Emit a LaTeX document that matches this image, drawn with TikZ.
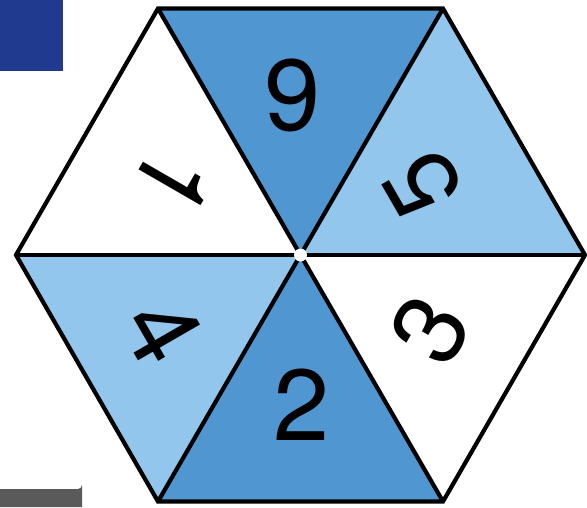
\documentclass[tikz,border=0pt]{standalone}
\usepackage{fontspec}
\setmainfont{TeX Gyre Heros}
\definecolor{darkblue}{HTML}{5097D2}
\definecolor{lightblue}{HTML}{92C6EC}
\definecolor{navy}{HTML}{1F3A8F}
\definecolor{greybar}{HTML}{5A5A5A}
\begin{document}
\begin{tikzpicture}[x=1pt,y=-1pt,
  seg/.style={line width=4.2pt,line join=miter},
  digit/.style={inner sep=0pt,font=\fontsize{101}{101}\selectfont}]
\useasboundingbox (0,0) rectangle (587,507);
\coordinate (O) at (300.5,255);
\coordinate (V0) at (585,255);
\coordinate (V1) at (443,8.5);
\coordinate (V2) at (158,8.5);
\coordinate (V3) at (16,255);
\coordinate (V4) at (158,501.5);
\coordinate (V5) at (443,501.5);
% corner marks
\fill[navy] (0,0) rectangle (63,71);
\fill[greybar] (0,507) -- (0,489) -- (78,489) arc[start angle=90,end angle=0,radius=4] -- (82,507) -- cycle;
% triangles
\fill[darkblue] (O) -- (V1) -- (V2) -- cycle;
\fill[white] (O) -- (V2) -- (V3) -- cycle;
\fill[lightblue] (O) -- (V3) -- (V4) -- cycle;
\fill[darkblue] (O) -- (V4) -- (V5) -- cycle;
\fill[white] (O) -- (V5) -- (V0) -- cycle;
\fill[lightblue] (O) -- (V0) -- (V1) -- cycle;
% lines
\draw[seg] (V0) -- (V1) -- (V2) -- (V3) -- (V4) -- (V5) -- cycle;
\draw[seg] (V0) -- (V3);
\draw[seg] (V1) -- (V4);
\draw[seg] (V2) -- (V5);
\fill[white] (O) circle[radius=6.5];
% digits
\node[digit] (d9) at (293,95) {9};
\node[digit,rotate=120] (d5) at (423,184) {5};
\node[digit,rotate=60] (d3) at (430,330) {3};
\node[digit] (d2) at (302,405) {2};
\node[digit,rotate=-60] (d4) at (163,331) {4};
\node[digit,rotate=-120] (d1) at (173,182) {1};
\end{tikzpicture}
\end{document}
